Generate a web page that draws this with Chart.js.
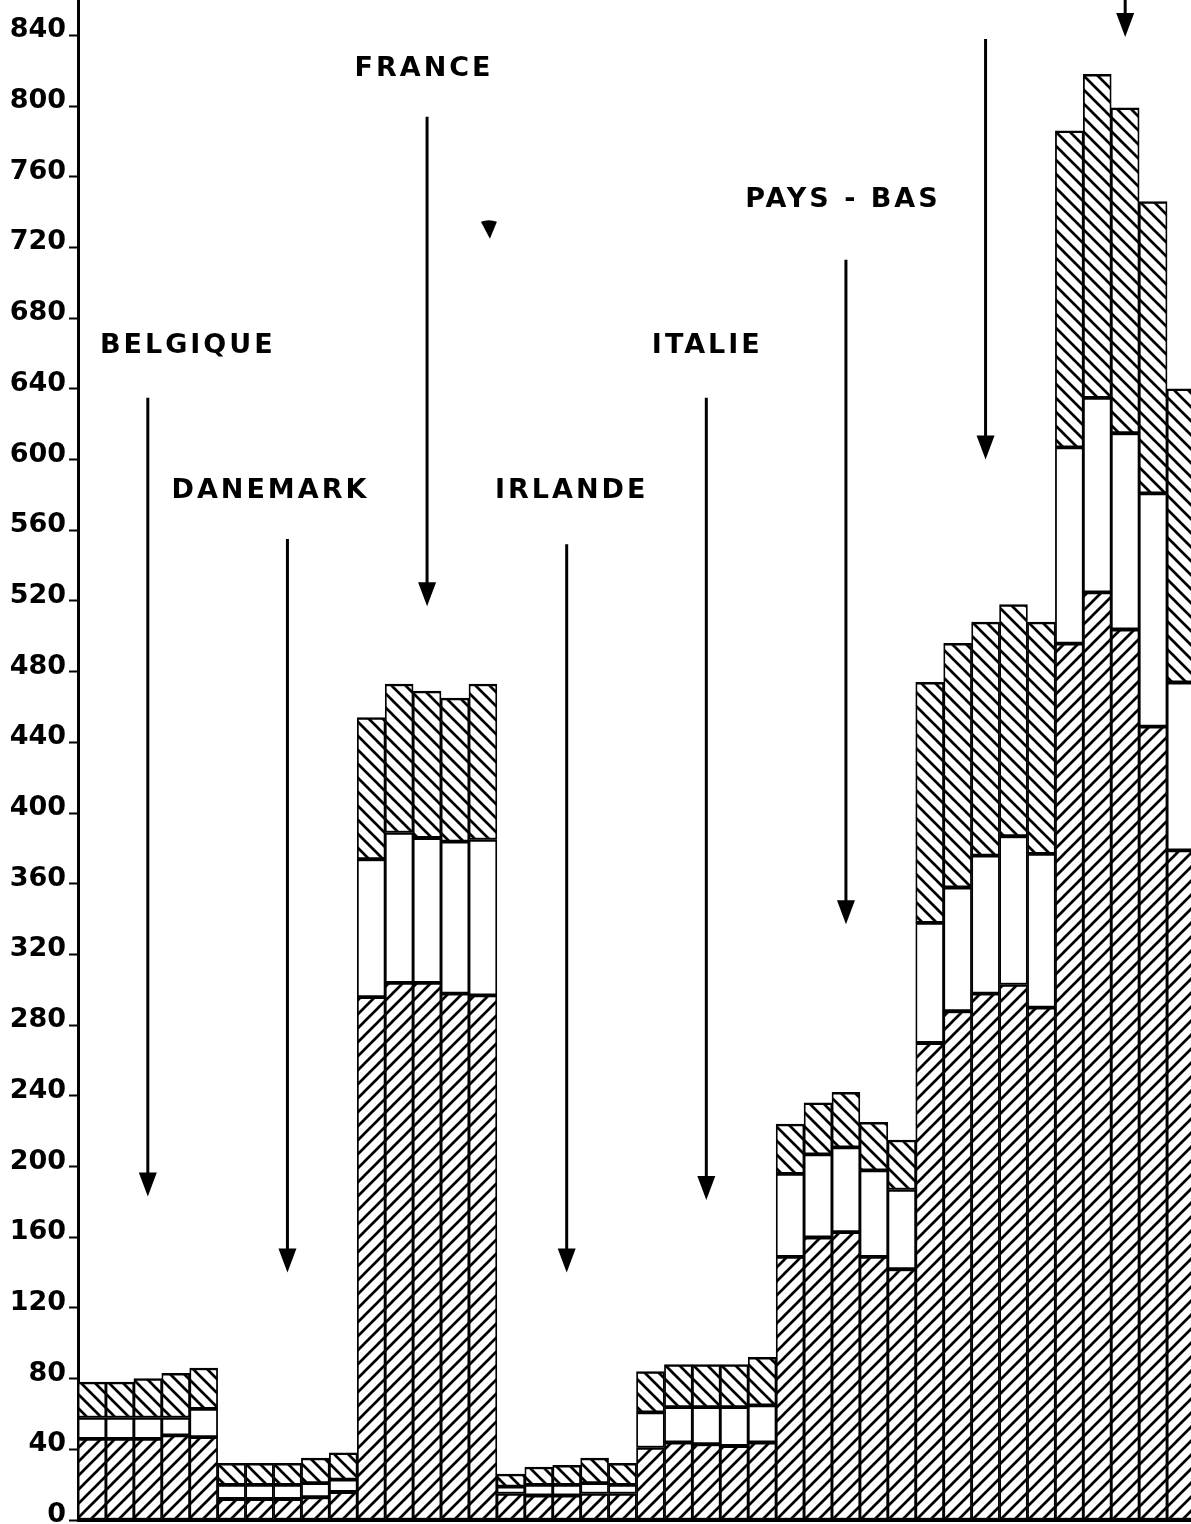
<!DOCTYPE html>
<html>
<head>
<meta charset="utf-8">
<script src="https://cdn.jsdelivr.net/npm/chart.js@4.4.1/dist/chart.umd.min.js"></script>
<style>
html,body{margin:0;padding:0;background:#fff;overflow:hidden;width:1191px;height:1524px}
canvas{display:block}
</style>
</head>
<body>
<canvas id="c" width="1200" height="1524"></canvas>
<script>
// ---- DATA ----
const groups = ['BELGIQUE', 'DANEMARK', 'FRANCE', 'IRLANDE', 'ITALIE', 'PAYS - BAS', 'R.F. D\'ALLEMAGNE', 'ROYAUME-UNI'];
const periods = ['1', '2', '3', '4', '5'];

// bottom segment (hatched "/")
const bottomSeries = [
  46, 46, 46, 48, 47,
  12, 12, 12, 13, 16,
  296, 304, 304, 298, 297,
  15, 14, 14, 15, 15,
  41, 44, 43, 42, 44,
  149, 160, 163, 149, 142,
  270, 288, 298, 303, 290,
  496, 525, 504, 449, 379
];
// middle segment (white)
const middleSeries = [
  12, 12, 12, 10, 16,
  8, 8, 8, 8, 7,
  78, 85, 82, 86, 88,
  4, 6, 6, 6, 5,
  20, 20, 21, 22, 21,
  47, 47, 48, 49, 45,
  68, 70, 78, 84, 87,
  111, 110, 111, 132, 95
];
// top segment (hatched "\")
const topSeries = [
  20, 20, 22, 25, 23,
  12, 12, 12, 14, 15,
  80, 84, 83, 81, 88,
  7, 10, 11, 14, 12,
  23, 24, 24, 24, 27,
  28, 29, 31, 27, 28,
  136, 138, 132, 131, 131,
  179, 183, 184, 165, 166
];

const yTickValues = [0, 40, 80, 120, 160, 200, 240, 280, 320, 360, 400, 440, 480, 520, 560, 600, 640, 680, 720, 760, 800, 840];
const yTickLabels = ['0', '40', '80', '120', '160', '200', '240', '280', '320', '360', '400', '440', '480', '520', '560', '600', '640', '680', '720', '760', '800', '840'];

// Annotation (arrow + country label) in value units
const arrowTop   = [635, 555, 794, 552, 635, 713, 838, 866];
const arrowTip   = [183, 140, 517, 140, 181, 337, 600, 839];
const labelLevel = [664, 582, 821, 582, 664, 747, null, null];
const labelShift = [40, -17, -3, 5, 1, -3, 0, 0];

// ---- BUILD ----
const categories = [];
groups.forEach(g => periods.forEach(p => categories.push(g + ' ' + p)));

function hatch(dir) {
  const s = 14;
  const c = document.createElement('canvas');
  c.width = s; c.height = s;
  const g = c.getContext('2d');
  g.fillStyle = '#fff';
  g.fillRect(0, 0, s, s);
  g.strokeStyle = '#000';
  g.lineWidth = 2.7;
  g.beginPath();
  if (dir === '/') {
    g.moveTo(-1, s + 1); g.lineTo(s + 1, -1);
    g.moveTo(-s / 2 - 1, s / 2 + 1); g.lineTo(s / 2 + 1, -s / 2 - 1);
    g.moveTo(s / 2 - 1, 3 * s / 2 + 1); g.lineTo(3 * s / 2 + 1, s / 2 - 1);
  } else {
    g.moveTo(-1, -1); g.lineTo(s + 1, s + 1);
    g.moveTo(-s / 2 - 1, s / 2 - 1); g.lineTo(s / 2 + 1, 3 * s / 2 + 1);
    g.moveTo(s / 2 - 1, -s / 2 - 1); g.lineTo(3 * s / 2 + 1, s / 2 + 1);
  }
  g.stroke();
  return document.getElementById('c').getContext('2d').createPattern(c, 'repeat');
}

const fwd = hatch('/');
const back = hatch('\\');
const bw = {top: 2.5, bottom: 2, left: 1.8, right: 1.8};

const annotPlugin = {
  id: 'annot',
  afterDatasetsDraw(chart) {
    const ctx = chart.ctx;
    const x = chart.scales.x, y = chart.scales.y;
    ctx.save();
    ctx.fillStyle = '#000';
    ctx.strokeStyle = '#000';
    groups.forEach((g, i) => {
      const cx = x.getPixelForValue(i * periods.length + 2);
      const yt = y.getPixelForValue(arrowTop[i]);
      const yp = y.getPixelForValue(arrowTip[i]);
      ctx.lineWidth = 3;
      ctx.beginPath();
      ctx.moveTo(cx, yt);
      ctx.lineTo(cx, yp - 12);
      ctx.stroke();
      ctx.beginPath();
      ctx.moveTo(cx - 9, yp - 24);
      ctx.lineTo(cx + 9, yp - 24);
      ctx.lineTo(cx, yp);
      ctx.closePath();
      ctx.fill();
      if (labelLevel[i] !== null) {
        ctx.font = 'bold 27px "DejaVu Sans"';
        ctx.letterSpacing = '3px';
        ctx.textAlign = 'center';
        ctx.textBaseline = 'middle';
        ctx.fillText(g, cx + labelShift[i], y.getPixelForValue(labelLevel[i]));
      }
    });
    // small stray mark near France group
    const mx = x.getPixelForValue(14) + 6;
    const my = y.getPixelForValue(730);
    ctx.beginPath();
    ctx.moveTo(mx - 8, my - 8);
    ctx.quadraticCurveTo(mx, my - 11, mx + 8, my - 8);
    ctx.lineTo(mx + 1, my + 9);
    ctx.closePath();
    ctx.fill();
    ctx.restore();
  }
};

new Chart(document.getElementById('c').getContext('2d'), {
  type: 'bar',
  data: {
    labels: categories,
    datasets: [
      {label: 'bas', data: bottomSeries, backgroundColor: fwd, borderColor: '#000', borderWidth: bw, borderSkipped: false},
      {label: 'milieu', data: middleSeries, backgroundColor: '#fff', borderColor: '#000', borderWidth: bw, borderSkipped: false},
      {label: 'haut', data: topSeries, backgroundColor: back, borderColor: '#000', borderWidth: bw, borderSkipped: false}
    ]
  },
  options: {
    responsive: false,
    animation: false,
    devicePixelRatio: 1,
    layout: {padding: {left: 0, right: 5, top: 0, bottom: 4}},
    datasets: {bar: {categoryPercentage: 1, barPercentage: 1}},
    plugins: {legend: {display: false}, tooltip: {enabled: false}, title: {display: false}},
    scales: {
      x: {
        stacked: true,
        grid: {display: false, drawTicks: false},
        ticks: {display: false},
        border: {display: true, color: '#000', width: 3}
      },
      y: {
        stacked: true,
        min: 0,
        max: 860,
        afterBuildTicks: s => { s.ticks = yTickValues.map(v => ({value: v})); },
        afterFit: s => { s.width = 78; s.paddingTop = 0; s.paddingBottom = 0; },
        ticks: {
          callback: (v, i) => yTickLabels[i],
          font: {family: 'DejaVu Sans', weight: 'bold', size: 27},
          color: '#000',
          padding: 3,
          labelOffset: -5
        },
        grid: {drawOnChartArea: false, drawTicks: true, tickLength: 9, tickWidth: 2, tickColor: '#000'},
        border: {display: true, color: '#000', width: 3}
      }
    }
  },
  plugins: [annotPlugin]
});
</script>
</body>
</html>
